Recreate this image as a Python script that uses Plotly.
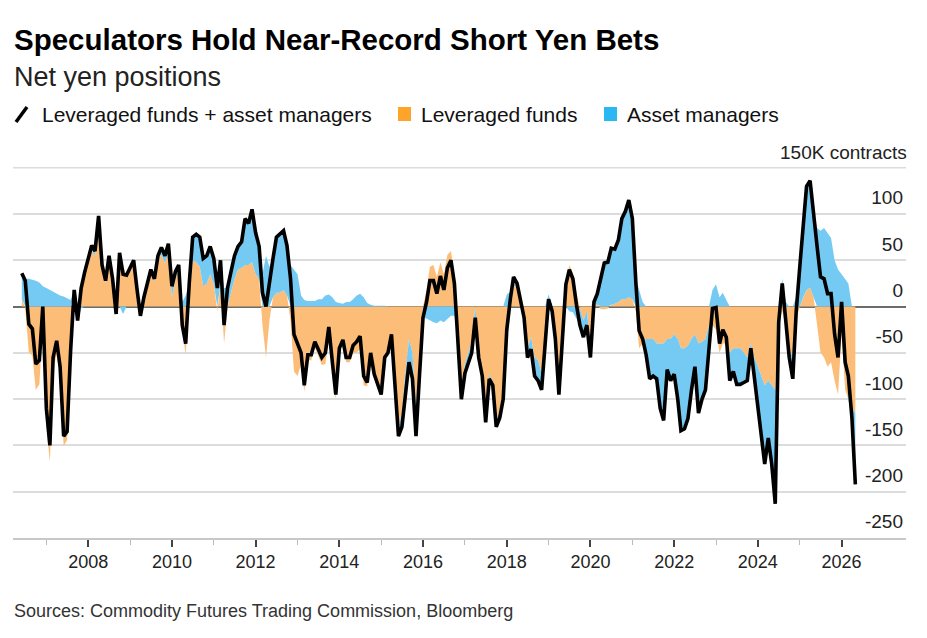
import numpy as np
import pandas as pd
import plotly.graph_objects as go

# ---------------- data (thousand contracts, monthly, from Jun 2006) ----------------
start_month = "2006-06-01"

lev_funds = [
    8, -2, -49, -53, -90, -84, -22,                                   # 2006 Jun-Dec
    -130, -168, -71, -51, -77, -151, -144, -54, 15, -12, 22, 35,      # 2007
    49, 61, 55, 93, 42, 26, 52, 28, -8, 56, 43, 34,                   # 2008
    40, 48, 20, -10, 10, 22, 37, 27, 50, 56, 47, 58,                  # 2009
    10, 30, 40, -25, -52, 10, 50, 48, 43, 22, 25, 35,                 # 2010
    24, -5, 25, -40, 0, 16, 30, 40, 42, 45, 45, 48,                   # 2011
    35, 30, -20, -55, -15, 10, 15, 15, 18, 12, -15, -70,              # 2012
    -75, -62, -92, -58, -58, -44, -54, -63, -62, -35, -70, -100,      # 2013
    -49, -39, -60, -60, -50, -50, -46, -85, -86, -52, -74, -86,       # 2014
    -96, -56, -50, -30, -78, -130, -115, -70, -35, -50, -110, -50,    # 2015
    0, 18, 43, 45, 32, 48, 35, 56, 60, 35, -25, -90,                  # 2016
    -62, -50, -38, 0, -45, -68, -120, -74, -80, -125, -113, -92,      # 2017
    -38, -8, 22, 22, 5, -5, -45, -33, -55, -58, -72, -35,             # 2018
    -5, -5, -28, -85, -30, 24, 45, 36, 15, -2, -15, -5,               # 2019
    -40, 3, 2, -3, -3, -2, 2, 3, 5, 8, 8, 10,                         # 2020
    8, -5, -45, -40, -35, -35, -35, -40, -40, -40, -35, -35,          # 2021
    -30, -35, -45, -45, -42, -35, -30, -40, -38, -35, -20, -20,       # 2022
    -25, -50, -40, -40, -50, -45, -45, -45, -50, -55, -40, -55,       # 2023
    -65, -75, -85, -80, -85, -90, -15, -5, -20, -45, -55, -15,        # 2024
    0, 10, 18, 20, 10, -20, -50, -55, -65, -60, -80, -95,             # 2025
    -30, -90, -100, -110, -115,                                       # 2026
]

asset_mgrs = [
    28, 30, 30, 29, 28, 26, 22,                                       # 2006 Jun-Dec
    20, 18, 16, 14, 12, 11, 9, 7, 3, -3, -2, 2,                       # 2007
    3, 5, 5, 5, 3, 2, 3, 2, 0, 2, -8, 0,                              # 2008
    2, 2, 0, 0, 0, 2, 3, 3, 5, 8, 8, 10,                              # 2009
    12, 8, 5, 5, 12, 15, 25, 30, 32, 30, 30, 30,                      # 2010
    28, 25, 25, 20, 20, 22, 25, 25, 28, 50, 45, 57,                   # 2011
    45, 35, 35, 55, 43, 42, 60, 63, 64, 54, 45, 40,                   # 2012
    35, 12, 7, 6, 6, 6, 8, 8, 12, 13, 10, 5,                          # 2013
    4, 3, 5, 5, 8, 12, 14, 10, 4, 2, 1, 1,                            # 2014
    1, 1, 0, 0, -2, -10, -15, -20, -25, -28, -30, -25,                # 2015
    -12, -13, -15, -17, -18, -15, -17, -14, -10, -10, -10, -10,       # 2016
    -10, -10, -12, -12, -10, -7, -5, -4, -5, -5, -7, -8,              # 2017
    13, 16, 10, 3, 0, -7, -10, -13, -20, -22, -18, -10,               # 2018
    13, 0, -7, -10, -5, 0, -5, -6, -13, -18, -18, -15,                # 2019
    -15, 2, 12, 33, 50, 50, 61, 59, 67, 87, 95, 105,                  # 2020
    87, 30, 19, 5, -17, -43, -40, -38, -70, -83, -33, -45,            # 2021
    -43, -65, -89, -87, -79, -55, -35, -75, -62, -55, -20, 18,        # 2022
    24, 10, 15, 7, -30, -25, -39, -39, -32, -25, -5, -20,             # 2023
    -45, -65, -85, -62, -85, -123, -2, 30, 5, -10, -23, 10,           # 2024
    43, 75, 112, 116, 95, 85, 82, 85, 79, 74, 50, 40,                 # 2025
    35, 30, 25, -10, -77,                                             # 2026
]

y_ticks = [-250, -200, -150, -100, -50, 0, 50, 100]
y_ticktext = ["-250", "-200", "-150", "-100", "-50", "0", "50", "100"]
y_top_value = 150
y_unit_label = "150K contracts"
x_label_years = list(range(2008, 2027, 2))
x_minor_years = list(range(2007, 2028, 2))

title_text = "Speculators Hold Near-Record Short Yen Bets"
subtitle_text = "Net yen positions"
legend_labels = ["Leveraged funds + asset managers", "Leveraged funds", "Asset managers"]
source_text = "Sources: Commodity Futures Trading Commission, Bloomberg"

# ---------------- derived ----------------
dates = pd.date_range(start_month, periods=len(lev_funds), freq="MS")
lev = np.array(lev_funds, dtype=float)
am = np.array(asset_mgrs, dtype=float)
total = lev + am
pos_base = np.maximum(lev, 0)
pos_top = pos_base + np.maximum(am, 0)
neg_base = np.minimum(lev, 0)
neg_bot = neg_base + np.minimum(am, 0)

ORANGE_FILL = "#FCBD78"
BLUE_FILL = "#74CAF2"
ORANGE_KEY = "#FFA42B"
BLUE_KEY = "#2BB8F2"
GRID = "#dcdcdc"
FONT = "Liberation Sans, Arial, sans-serif"

W, H = 927, 638
L, R, T, B = 13, 906, 167, 538  # plot area pixel box
Y_MIN, Y_MAX = -250, 150.8


def px(x):
    return (x - L) / (R - L)


def py(y):
    return (B - y) / (B - T)


fig = go.Figure()
fig.add_trace(go.Scatter(x=dates, y=lev, mode="lines", line=dict(width=0),
                         fill="tozeroy", fillcolor=ORANGE_FILL, hoverinfo="skip",
                         showlegend=False))
fig.add_trace(go.Scatter(x=dates, y=pos_base, mode="lines", line=dict(width=0),
                         hoverinfo="skip", showlegend=False))
fig.add_trace(go.Scatter(x=dates, y=pos_top, mode="lines", line=dict(width=0),
                         fill="tonexty", fillcolor=BLUE_FILL, hoverinfo="skip",
                         showlegend=False))
fig.add_trace(go.Scatter(x=dates, y=neg_base, mode="lines", line=dict(width=0),
                         hoverinfo="skip", showlegend=False))
fig.add_trace(go.Scatter(x=dates, y=neg_bot, mode="lines", line=dict(width=0),
                         fill="tonexty", fillcolor=BLUE_FILL, hoverinfo="skip",
                         showlegend=False))
fig.add_trace(go.Scatter(x=dates, y=total, mode="lines",
                         line=dict(color="#000000", width=3.6),
                         showlegend=False))

annotations = [
    dict(text=title_text, x=px(12), y=py(40), font=dict(size=29.5, color="#000", family=FONT, weight=700)),
    dict(text=subtitle_text, x=px(12), y=py(77), font=dict(size=27, color="#222", family=FONT)),
    dict(text=legend_labels[0], x=px(40), y=py(114), font=dict(size=21, color="#111", family=FONT)),
    dict(text=legend_labels[1], x=px(419), y=py(114), font=dict(size=21, color="#111", family=FONT)),
    dict(text=legend_labels[2], x=px(625), y=py(114), font=dict(size=21, color="#111", family=FONT)),
    dict(text=source_text, x=px(12), y=py(611), font=dict(size=18, color="#333", family=FONT)),
]
for a in annotations:
    a.update(xanchor="left")
annotations.append(dict(text=y_unit_label, x=px(909), y=py(152), xanchor="right",
                        font=dict(size=19, color="#222", family=FONT)))
for a in annotations:
    a.update(xref="paper", yref="paper", yanchor="middle", showarrow=False)

shapes = [
    # top gridline (its label is the unit annotation above)
    dict(type="line", xref="paper", yref="y", x0=0, x1=1, y0=y_top_value, y1=y_top_value,
         line=dict(color=GRID, width=1.5), layer="below"),
    dict(type="line", xref="paper", yref="paper", x0=px(16), y0=py(122), x1=px(27), y1=py(107),
         line=dict(color="#000", width=3.5)),
    dict(type="rect", xref="paper", yref="paper", x0=px(398), y0=py(121), x1=px(411), y1=py(107),
         fillcolor=ORANGE_KEY, line=dict(width=0)),
    dict(type="rect", xref="paper", yref="paper", x0=px(604), y0=py(121), x1=px(617), y1=py(107),
         fillcolor=BLUE_KEY, line=dict(width=0)),
]

fig.update_layout(
    width=W, height=H,
    margin=dict(l=L, r=W - R, t=T, b=H - B, pad=0),
    paper_bgcolor="white", plot_bgcolor="white",
    font=dict(family=FONT, color="#222"),
    annotations=annotations, shapes=shapes,
    showlegend=False,
    xaxis=dict(
        type="date",
        range=["2006-03-16", "2027-07-17"],
        tickmode="array",
        tickvals=[f"{y}-01-01" for y in x_label_years],
        ticktext=[str(y) for y in x_label_years],
        ticks="outside", ticklen=7, tickwidth=1.5, tickcolor="#444",
        showline=True, linecolor="#c8c8c8", linewidth=1.5,
        showgrid=False, zeroline=False,
        tickfont=dict(size=18, color="#222", family=FONT),
        minor=dict(tickmode="array", tickvals=[f"{y}-01-01" for y in x_minor_years],
                   ticks="outside", ticklen=5, tickwidth=1.2, tickcolor="#bbb", showgrid=False),
        automargin=False, fixedrange=True,
    ),
    yaxis=dict(
        side="right",
        range=[Y_MIN, Y_MAX],
        tickmode="array", tickvals=y_ticks, ticktext=y_ticktext,
        ticklabelposition="inside top",
        ticklabelshift=-3,
        ticks="", showline=False,
        showgrid=True, gridcolor=GRID, gridwidth=1.5,
        zeroline=True, zerolinecolor="#6b6b6b", zerolinewidth=1.5,
        tickfont=dict(size=19, color="#222", family=FONT),
        automargin=False, fixedrange=True,
    ),
)

fig.write_html("out.html")
